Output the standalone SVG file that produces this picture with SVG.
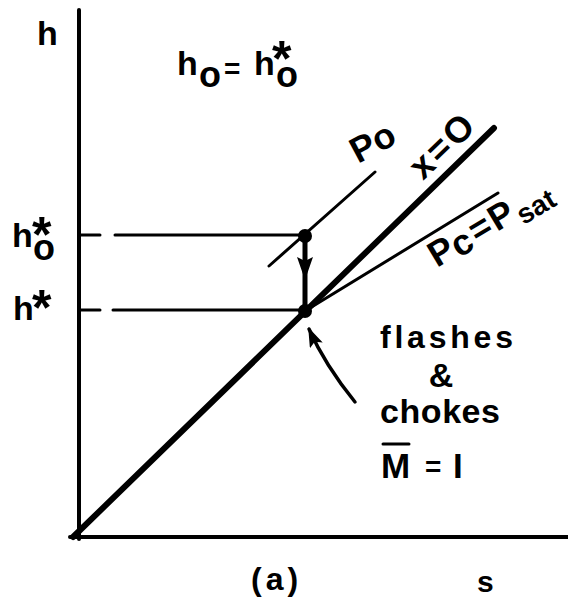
<svg xmlns="http://www.w3.org/2000/svg" width="568" height="600" viewBox="0 0 568 600">
<style>
.t{font-family:"Liberation Sans","DejaVu Sans",sans-serif;font-weight:bold;fill:#000}
.ln{stroke:#000;fill:none;stroke-linecap:round}
</style>
<defs>
<marker id="ah" markerWidth="20" markerHeight="14" refX="18" refY="7" orient="auto" markerUnits="userSpaceOnUse" viewBox="0 0 20 14">
<path d="M0,0 L20,7 L0,14 L4,7 Z" fill="#000"/>
</marker>
</defs>
<rect width="568" height="600" fill="#fff"/>
<g id="axes">
<line class="ln" x1="79" y1="10" x2="79" y2="539" stroke-width="4"/>
<line class="ln" x1="70" y1="537" x2="568" y2="537" stroke-width="4"/>
</g>
<g id="connectors">
<line class="ln" x1="73" y1="537" x2="494" y2="128" stroke-width="6"/>
<line class="ln" x1="305" y1="311" x2="498" y2="193" stroke-width="3"/>
<line class="ln" x1="269" y1="266" x2="375" y2="172" stroke-width="3"/>
<line class="ln" x1="80" y1="235" x2="100" y2="235" stroke-width="3"/>
<line class="ln" x1="115" y1="235" x2="305" y2="235" stroke-width="3"/>
<line class="ln" x1="80" y1="310" x2="100" y2="310" stroke-width="3"/>
<line class="ln" x1="113" y1="310" x2="305" y2="310" stroke-width="3"/>
<line class="ln" x1="305" y1="236" x2="305" y2="311" stroke-width="5"/>
<path d="M297,257 L305,261 L313,257 L305,280 Z" fill="#000"/>
<path class="ln" d="M355,402 Q325,365 309,329" stroke-width="3.5" marker-end="url(#ah)"/>
</g>
<g id="point-h0star"><circle cx="305" cy="236" r="7" fill="#000"/></g>
<g id="point-hstar"><circle cx="305" cy="311" r="7" fill="#000"/></g>
<g id="labels">
<text class="t" x="37" y="45" font-size="34">h</text>
<text class="t" x="177" y="75" font-size="34">h<tspan x="199" y="87" font-size="36">o</tspan><tspan x="224" y="78" font-size="28">=</tspan><tspan x="254" y="75">h</tspan><tspan x="272" y="76" font-size="50">*</tspan><tspan x="276" y="87" font-size="36">o</tspan></text>
<text class="t" x="12" y="247" font-size="34">h<tspan x="32" y="252" font-size="50">*</tspan><tspan x="33" y="260" font-size="36">o</tspan></text>
<text class="t" x="13" y="320" font-size="34">h<tspan x="32" y="325" font-size="50">*</tspan></text>
<text class="t" font-size="36" transform="translate(358,164) rotate(-28)">Po</text>
<text class="t" font-size="36" letter-spacing="3" transform="translate(423,181) rotate(-44)">x=O</text>
<text class="t" font-size="36" transform="translate(437,268) rotate(-31)">P<tspan dy="3">c</tspan><tspan dx="3" dy="-3">=</tspan><tspan dx="2">P</tspan><tspan font-size="28" dx="2" dy="8">sat</tspan></text>
<text class="t" x="380" y="348" font-size="32" textLength="133" lengthAdjust="spacing">flashes</text>
<text class="t" x="441" y="387" font-size="34" text-anchor="middle">&amp;</text>
<text class="t" x="380" y="423" font-size="34" textLength="120" lengthAdjust="spacing">chokes</text>
<text class="t" x="381" y="478" font-size="35">M</text>
<line class="ln" x1="383" y1="444" x2="409" y2="444" stroke-width="3"/>
<text class="t" x="425" y="476" font-size="28">=</text>
<text class="t" x="453" y="478" font-size="35">I</text>
<text class="t" x="251" y="590" font-size="32" letter-spacing="4">(a)</text>
<text class="t" x="477" y="592" font-size="30">s</text>
</g>
</svg>
